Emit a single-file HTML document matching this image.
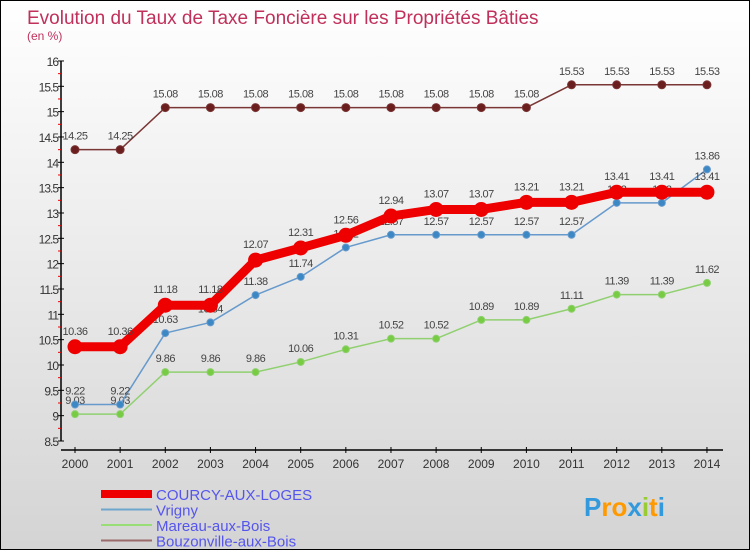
<!DOCTYPE html>
<html><head><meta charset="utf-8"><style>
body{margin:0;width:750px;height:550px;overflow:hidden;font-family:"Liberation Sans",sans-serif}
#wrap{position:relative;width:748px;height:548px;border:1px solid #000;background:linear-gradient(#ffffff,#d4d4d4)}
</style></head><body>
<div id="wrap">
<svg id="chart" width="748" height="548"></svg>
</div>
<script>
const years=["2000","2001","2002","2003","2004","2005","2006","2007","2008","2009","2010","2011","2012","2013","2014"];
const courcy=[10.36,10.36,11.18,11.18,12.07,12.31,12.56,12.94,13.07,13.07,13.21,13.21,13.41,13.41,13.41];
const vrigny=[9.22,9.22,10.63,10.84,11.38,11.74,12.32,12.57,12.57,12.57,12.57,12.57,13.2,13.2,13.86];
const mareau=[9.03,9.03,9.86,9.86,9.86,10.06,10.31,10.52,10.52,10.89,10.89,11.11,11.39,11.39,11.62];
const bouz=[14.25,14.25,15.08,15.08,15.08,15.08,15.08,15.08,15.08,15.08,15.08,15.53,15.53,15.53,15.53];
const yTicks=[8.5,9,9.5,10,10.5,11,11.5,12,12.5,13,13.5,14,14.5,15,15.5,16];
const svg=document.getElementById('chart');
const NS='http://www.w3.org/2000/svg';
function X(i){return 74+i*45.14;}
function Y(v){return 440-(v-8.5)*50.67;}
function mk(t,a,p){const e=document.createElementNS(NS,t);for(const k in a)e.setAttribute(k,a[k]);(p||svg).appendChild(e);return e;}
function txt(s,x,y,a){const e=mk('text',Object.assign({x:x,y:y},a));e.textContent=s;return e;}
let t=txt('Evolution du Taux de Taxe Foncière sur les Propriétés Bâties',26,23,{'font-size':19,fill:'#c0305a'});

t=txt('(en %)',26,39,{'font-size':12,fill:'#c0305a'});

let ax=mk('line',{x1:60,y1:Y(16),x2:60,y2:Y(8.5),stroke:'#000','stroke-width':1.5});

yTicks.forEach(v=>{mk('line',{x1:57,x2:63,y1:Y(v),y2:Y(v),stroke:'#000'});
 if(v<16)mk('line',{x1:57,x2:60,y1:Y(v+0.25),y2:Y(v+0.25),stroke:'#e00'});
 const l=txt(String(v),57,Y(v)+5,{'font-size':12,fill:'#333','text-anchor':'end','letter-spacing':'-1'});
 });
ax=mk('line',{x1:60,y1:449,x2:722,y2:449,stroke:'#000','stroke-width':1.5});

years.forEach((y,i)=>{mk('line',{x1:X(i),x2:X(i),y1:446,y2:452,stroke:'#000'});
 const l=txt(y,X(i),467,{'font-size':12,fill:'#333','text-anchor':'middle'});
 });
function series(d,name,color,lw,r,dot,labOff){
 const g=mk('g',{});
 mk('polyline',{points:d.map((v,i)=>X(i)+','+Y(v)).join(' '),fill:'none',stroke:color,'stroke-width':lw,'stroke-linejoin':'round'},g);
 d.forEach((v,i)=>{const c=mk('circle',{cx:X(i),cy:Y(v),r:r,fill:dot,stroke:color},g);
  
  txt(String(v),X(i),Y(v)+labOff,{'font-size':11,fill:'#444','text-anchor':'middle','letter-spacing':'-0.5'},g);});
}
series(bouz,'bouzonville','#7a3535',1.5,4,'#6b1e1e',-10);
series(mareau,'mareau','#90d070',1.5,3.5,'#77cc44',-10);
series(vrigny,'vrigny','#6699cc',1.5,3.5,'#3b88c4',-10);
series(courcy,'courcy','#ee0000',9,7,'#ee0000',-12);
const leg=[['COURCY-AUX-LOGES','#ee0000',8],['Vrigny','#6fa6cc',2],['Mareau-aux-Bois','#99dd77',2],['Bouzonville-aux-Bois','#9b6a6a',2]];
leg.forEach((l,i)=>{const y=493+i*15.5;
 const g=mk('g',{});
 mk('line',{x1:100,x2:151,y1:y,y2:y,stroke:l[1],'stroke-width':l[2]},g);
 txt(l[0],155,y+6,{'font-size':15,fill:'#5555ee'},g);});
const p=txt('',583,515,{'font-size':26,'font-weight':'bold'});

[['P','#3399dd'],['ro','#ff9900'],['x','#3399dd'],['i','#99cc33'],['t','#ff9900'],['i','#3399dd']].forEach(s=>{const ts=mk('tspan',{fill:s[1]},p);ts.textContent=s[0];});
</script>
</body></html>
